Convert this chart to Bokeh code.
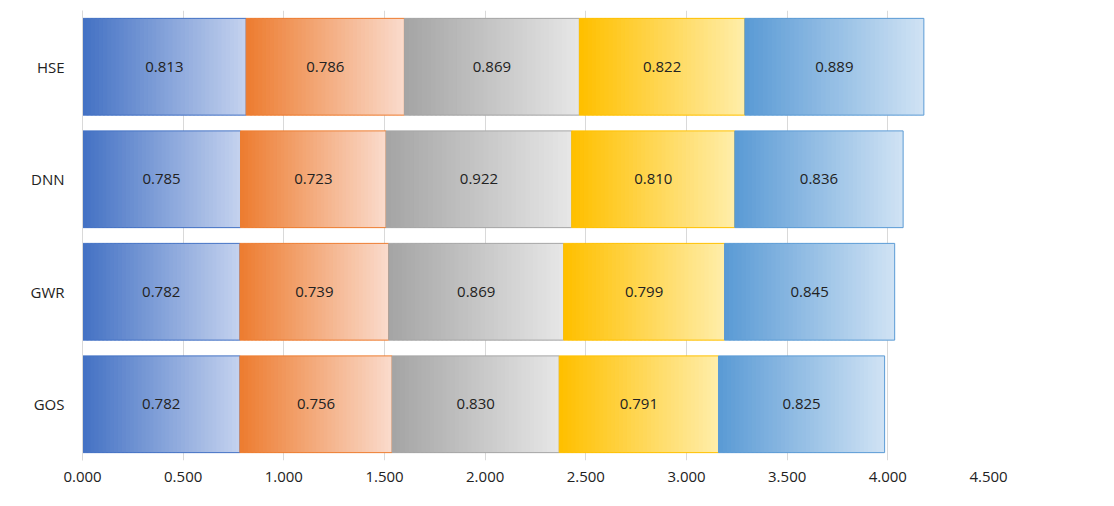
from bokeh.plotting import figure
from bokeh.models import Legend, LegendItem, NumeralTickFormatter, FixedTicker
from bokeh.core.properties import value
from bokeh.embed import file_html
from bokeh.resources import INLINE

models = ["GOS", "GWR", "DNN", "HSE"]
metrics = ["Accuracy", "Precision", "Recall", "F1 Score", "AUC"]
accuracy = [0.782, 0.782, 0.785, 0.813]
precision = [0.756, 0.739, 0.723, 0.786]
recall = [0.830, 0.869, 0.922, 0.869]
f1 = [0.791, 0.799, 0.810, 0.822]
auc = [0.825, 0.845, 0.836, 0.889]
series = [accuracy, precision, recall, f1, auc]
dark = ["#4472C4", "#ED7D31", "#A5A5A5", "#FFC000", "#5B9BD5"]
light = ["#C3D1EE", "#FADACB", "#E6E6E6", "#FFEDA8", "#CFE2F4"]
ticks = [0, 0.5, 1, 1.5, 2, 2.5, 3, 3.5, 4, 4.5]

def mix(c1, c2, t):
    a = [int(c1[i:i+2], 16) for i in (1, 3, 5)]
    b = [int(c2[i:i+2], 16) for i in (1, 3, 5)]
    return "#%02x%02x%02x" % tuple(round(a[k] + (b[k] - a[k]) * t) for k in range(3))

p = figure(frame_width=906, frame_height=450, y_range=models, x_range=(0, 4.5),
           output_backend="svg", toolbar_location=None,
           min_border_left=82, min_border_right=0, min_border_top=10, min_border_bottom=30)
p.outline_line_color = None
p.ygrid.grid_line_color = None
p.xgrid.grid_line_color = "#D9D9D9"
p.xaxis.ticker = FixedTicker(ticks=ticks)
p.xaxis.formatter = NumeralTickFormatter(format="0.000")
p.xaxis.axis_line_color = None
p.xaxis.major_tick_line_color = None
p.xaxis.minor_tick_line_color = None
p.yaxis.major_tick_line_color = None
p.yaxis.axis_line_color = "#D9D9D9"
p.yaxis.major_label_standoff = 12
for ax in (p.xaxis, p.yaxis):
    ax.major_label_text_font = "Open Sans"
    ax.major_label_text_font_size = "15px"
    ax.major_label_text_color = "#222222"

N = 40
H = 0.43
items = []
starts = [0.0] * len(models)
for si, vals in enumerate(series):
    L, R, T, B, C = [], [], [], [], []
    for mi, m in enumerate(models):
        s = starts[mi]; w = vals[mi]
        for k in range(N):
            L.append(s + w * k / N)
            R.append(min(s + w, s + w * (k + 1) / N + 0.01))
            T.append((m, H)); B.append((m, -H))
            C.append(mix(dark[si], light[si], k / (N - 1)))
    p.quad(left=L, right=R, top=T, bottom=B, fill_color=C, line_color=None)
    lefts = [starts[i] for i in range(len(models))]
    rights = [starts[i] + vals[i] for i in range(len(models))]
    p.quad(left=lefts, right=rights, top=[(m, H) for m in models], bottom=[(m, -H) for m in models],
           fill_alpha=0, line_color=dark[si], line_width=1)
    p.text(x=[(lefts[i] + rights[i]) / 2 for i in range(len(models))], y=models,
           text=["%.3f" % v for v in vals], text_align="center", text_baseline="middle",
           text_font=value("Open Sans"), text_font_size="15px", text_color="#222222")
    r = p.rect(x=[0], y=[models[0]], width=0, height=0, fill_color=mix(dark[si], light[si], 0.4),
               line_color=dark[si])
    items.append(LegendItem(label=metrics[si], renderers=[r]))
    starts = rights

legend = Legend(items=items, spacing=76, label_text_font="Open Sans", label_text_font_size="15px",
                label_text_color="#222222", glyph_width=12, glyph_height=12, border_line_color=None,
                padding=0, margin=0, label_standoff=4, location="center")
p.add_layout(legend, "right")

open("out.html", "w").write(file_html(p, INLINE))
